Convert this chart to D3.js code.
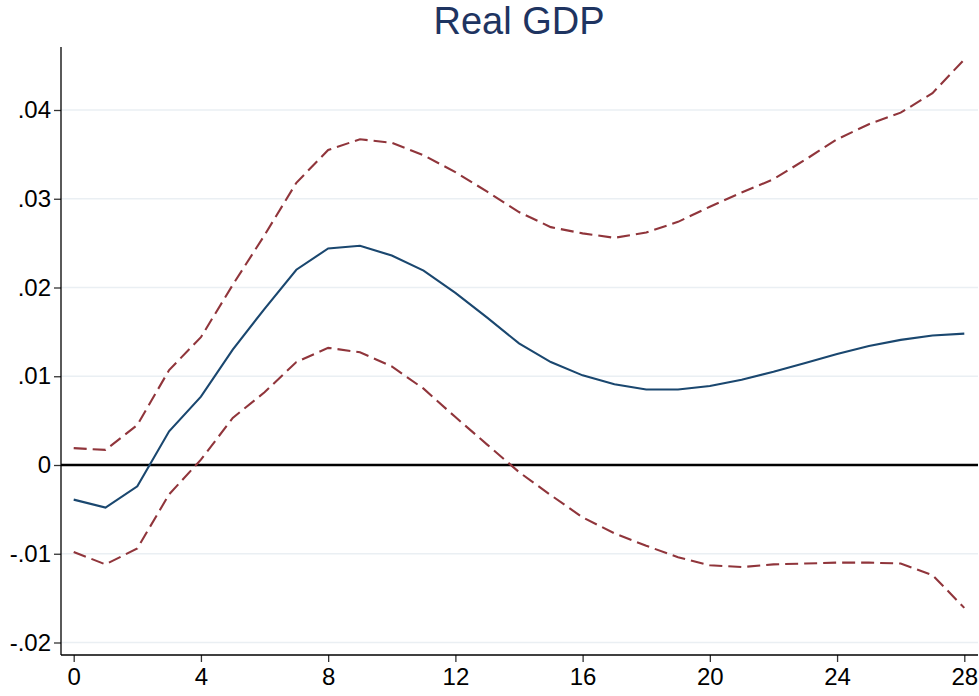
<!DOCTYPE html>
<html><head><meta charset="utf-8">
<script src="https://cdn.jsdelivr.net/npm/d3@7"></script>
<style>body{margin:0;background:#fff}</style>
</head><body>
<svg id="c" width="979" height="696"></svg>
<script>
const steps = d3.range(0, 29);
const irf = [-0.0039,-0.0048,-0.0024,0.0038,0.0077,0.0130,0.0176,0.0220,0.0244,0.0247,0.0236,0.0219,0.0194,0.0166,0.0137,0.0116,0.0101,0.0091,0.0085,0.0085,0.0089,0.0096,0.0105,0.0115,0.0125,0.0134,0.0141,0.0146,0.0148];
const upper = [0.0019,0.0017,0.0045,0.0107,0.0144,0.0203,0.0259,0.0318,0.0355,0.0367,0.0363,0.0349,0.0330,0.0308,0.0285,0.0268,0.0261,0.0256,0.0262,0.0274,0.0291,0.0307,0.0322,0.0344,0.0367,0.0384,0.0397,0.0419,0.0457];
const lower = [-0.0098,-0.0112,-0.0094,-0.0033,0.0006,0.0053,0.0082,0.0116,0.0132,0.0127,0.0111,0.0086,0.0054,0.0023,-0.0008,-0.0034,-0.0059,-0.0077,-0.0091,-0.0104,-0.0113,-0.0115,-0.0112,-0.0111,-0.0110,-0.0110,-0.0111,-0.0124,-0.0161];
const xTicks = [0,4,8,12,16,20,24,28];
const yTicks = [-0.02,-0.01,0,0.01,0.02,0.03,0.04];
const yTickLabels = ["-.02","-.01","0",".01",".02",".03",".04"];
const title = "Real GDP";

const svg = d3.select("#c");
const x = d3.scaleLinear().domain([0,28]).range([73.7,964.3]);
const y = d3.scaleLinear().domain([0,0.04]).range([465,110]);
const pL = 61, pR = 978, pT = 47, pB = 655;

svg.append("g").selectAll("line").data(yTicks.filter(d=>d!==0)).join("line")
  .attr("x1",pL).attr("x2",pR).attr("y1",d=>y(d)).attr("y2",d=>y(d))
  .attr("stroke","#eaeff3").attr("stroke-width",1.6);

svg.append("line").attr("x1",pL).attr("x2",pR).attr("y1",y(0)).attr("y2",y(0))
  .attr("stroke","#000").attr("stroke-width",2.5);

const yAxis = d3.axisLeft(y).tickValues(yTicks).tickFormat((d,i)=>yTickLabels[i]).tickSize(7).tickPadding(3);
const gy = svg.append("g").attr("transform",`translate(${pL},0)`).call(yAxis);
gy.select(".domain").remove();
gy.append("line").attr("x1",0).attr("x2",0).attr("y1",pT).attr("y2",pB).attr("stroke","#000").attr("stroke-width",1.3);
gy.selectAll(".tick line").attr("stroke","#333").attr("stroke-width",1.3);
gy.selectAll(".tick text").attr("font-family","Liberation Sans, Arial, sans-serif").attr("font-size",24).attr("fill","#000");

const xAxis = d3.axisBottom(x).tickValues(xTicks).tickFormat(d3.format("d")).tickSize(7).tickPadding(6);
const gx = svg.append("g").attr("transform",`translate(0,${pB})`).call(xAxis);
gx.select(".domain").remove();
gx.append("line").attr("x1",pL).attr("x2",pR).attr("y1",0).attr("y2",0).attr("stroke","#000").attr("stroke-width",1.3);
gx.selectAll(".tick line").attr("stroke","#333").attr("stroke-width",1.3);
gx.selectAll(".tick text").attr("font-family","Liberation Sans, Arial, sans-serif").attr("font-size",24).attr("fill","#000");

const line = d3.line().x((d,i)=>x(steps[i])).y(d=>y(d));
svg.append("path").datum(upper).attr("d",line).attr("fill","none")
  .attr("stroke","#90353b").attr("stroke-width",2.1).attr("stroke-dasharray","13,6");
svg.append("path").datum(lower).attr("d",line).attr("fill","none")
  .attr("stroke","#90353b").attr("stroke-width",2.1).attr("stroke-dasharray","13,6");
svg.append("path").datum(irf).attr("d",line).attr("fill","none")
  .attr("stroke","#1a476f").attr("stroke-width",2.1);

svg.append("text").attr("x",519).attr("y",34).attr("text-anchor","middle")
  .attr("font-family","Liberation Sans, Arial, sans-serif").attr("font-size",38)
  .attr("fill","#1e3461").text(title);
</script>
</body></html>
